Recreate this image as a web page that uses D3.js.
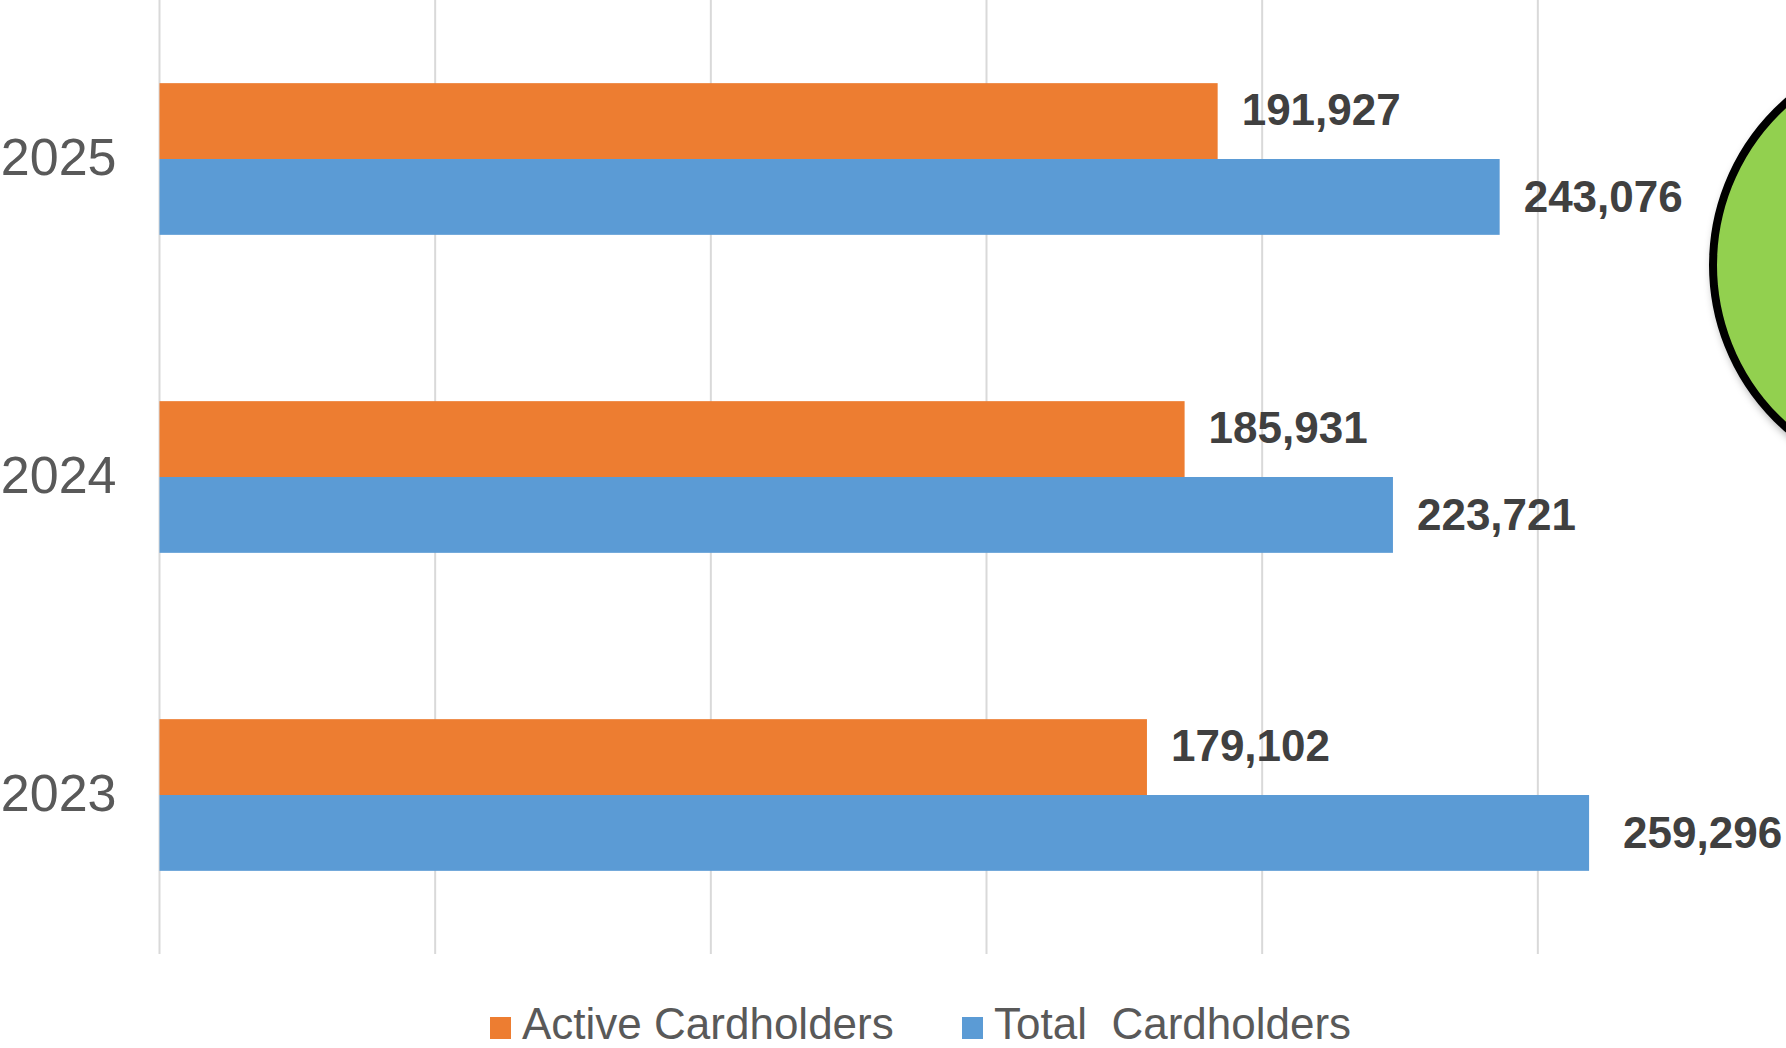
<!DOCTYPE html>
<html>
<head>
<meta charset="utf-8">
<script src="https://cdn.jsdelivr.net/npm/d3@7/dist/d3.min.js"></script>
<style>
  html, body { margin: 0; padding: 0; background: #fff; overflow: hidden; }
  svg { display: block; }
  .yearLabel { font-family: "Liberation Sans", Arial, sans-serif; font-size: 52px; fill: #595959; }
  .valueLabel { font-family: "Liberation Sans", Arial, sans-serif; font-size: 44px; font-weight: bold; fill: #404040; }
  .legendText { font-family: "Liberation Sans", Arial, sans-serif; font-size: 44px; fill: #595959; white-space: pre; }
</style>
</head>
<body>
<div id="chart"></div>
<script>
// data
var years = ["2023", "2024", "2025"];
var seriesNames = ["Active Cardholders", "Total  Cardholders"];
var activeValues = [179102, 185931, 191927];
var totalValues = [259296, 223721, 243076];
var seriesColors = ["#ED7D31", "#5B9BD5"];
var gridTicks = [0, 50000, 100000, 150000, 200000, 250000, 300000];

var width = 1786,
    height = 1048;

var margin = {top: 0, left: 159.5, bottom: 94},
    plotHeight = height - margin.top - margin.bottom;

var rows = years.map(function(y, i) {
  return {year: y, values: [activeValues[i], totalValues[i]]};
});

var svg = d3.select("#chart").append("svg")
    .attr("width", width)
    .attr("height", height);

var x = d3.scaleLinear()
    .domain([0, 300000])
    .range([margin.left, margin.left + 1654]);

// 2025 on top
var y0 = d3.scaleBand()
    .domain(years.slice().reverse())
    .range([margin.top, margin.top + plotHeight])
    .paddingInner(0.523)
    .paddingOuter(0.2615);

var y1 = d3.scaleBand()
    .domain(d3.range(seriesNames.length))
    .range([0, y0.bandwidth()]);

// gridlines
svg.append("g")
    .attr("class", "grid")
    .selectAll("line")
    .data(gridTicks)
    .enter().append("line")
    .attr("x1", function(d) { return x(d); })
    .attr("x2", function(d) { return x(d); })
    .attr("y1", margin.top)
    .attr("y2", margin.top + plotHeight)
    .attr("stroke", "#d9d9d9")
    .attr("stroke-width", 2);

// bars
var group = svg.selectAll(".yearGroup")
    .data(rows)
    .enter().append("g")
    .attr("class", "yearGroup")
    .attr("transform", function(d) { return "translate(0," + y0(d.year) + ")"; });

group.selectAll("rect")
    .data(function(d) { return d.values; })
    .enter().append("rect")
    .attr("x", x(0))
    .attr("y", function(d, i) { return y1(i); })
    .attr("width", function(d) { return x(d) - x(0); })
    .attr("height", y1.bandwidth())
    .attr("fill", function(d, i) { return seriesColors[i]; });

// value labels (orange ones sit a bit higher than bar centre)
var labelShift = [-12, -1];
group.selectAll(".valueLabel")
    .data(function(d) { return d.values; })
    .enter().append("text")
    .attr("class", "valueLabel")
    .attr("x", function(d, i) {
      // the 2023 total label was nudged further right in the original
      var yr = d3.select(this.parentNode).datum().year;
      return x(d) + (yr === "2023" && i === 1 ? 34 : 24);
    })
    .attr("y", function(d, i) { return y1(i) + y1.bandwidth() / 2 + labelShift[i]; })
    .attr("dy", "0.36em")
    .text(function(d) { return d3.format(",")(d); });

// year labels
svg.append("g")
    .selectAll("text")
    .data(years)
    .enter().append("text")
    .attr("class", "yearLabel")
    .attr("x", margin.left - 43)
    .attr("y", function(d) { return y0(d) + y0.bandwidth() / 2 - 2; })
    .attr("dy", "0.35em")
    .attr("text-anchor", "end")
    .text(function(d) { return d; });

// legend
var legendX = [490, 962];
var legend = svg.append("g")
    .attr("class", "legend")
    .selectAll("g")
    .data(seriesNames)
    .enter().append("g")
    .attr("transform", function(d, i) { return "translate(" + legendX[i] + ",1039)"; });

legend.append("rect")
    .attr("x", 0)
    .attr("y", -22)
    .attr("width", 21)
    .attr("height", 22)
    .attr("fill", function(d, i) { return seriesColors[i]; });

legend.append("text")
    .attr("class", "legendText")
    .attr("x", 32)
    .attr("y", 0)
    .text(function(d) { return d; });

// green callout circle, cut by the right edge
var defs = svg.append("defs");
var shadow = defs.append("filter")
    .attr("id", "shadow")
    .attr("x", "-20%").attr("y", "-20%")
    .attr("width", "140%").attr("height", "140%");
shadow.append("feDropShadow")
    .attr("dx", 3).attr("dy", 4)
    .attr("stdDeviation", 4)
    .attr("flood-color", "#000")
    .attr("flood-opacity", 0.35);

svg.append("circle")
    .attr("cx", 1930)
    .attr("cy", 265)
    .attr("r", 217)
    .attr("fill", "#92D050")
    .attr("stroke", "#000")
    .attr("stroke-width", 8)
    .attr("filter", "url(#shadow)");
</script>
</body>
</html>
